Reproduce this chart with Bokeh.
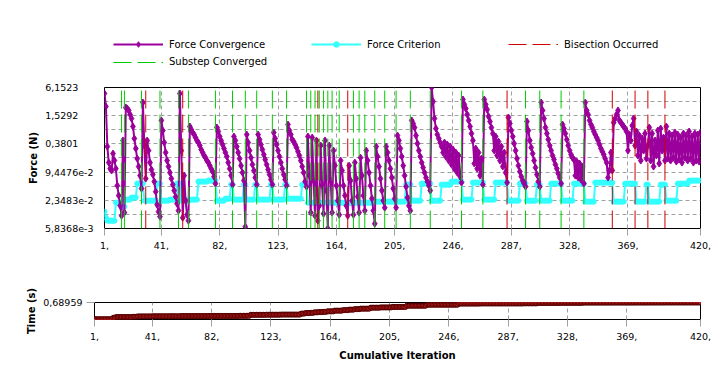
from bokeh.plotting import figure
from bokeh.models import Range1d, FixedTicker, Legend, LegendItem
from bokeh.embed import file_html
from bokeh.resources import INLINE
import numpy as np

# ---------------- data ----------------
x_ticks = [1, 41, 82, 123, 164, 205, 246, 287, 328, 369, 420]
x_tick_labels = ["1,", "41,", "82,", "123,", "164,", "205,", "246,", "287,", "328,", "369,", "420,"]

force_ticks = [6.1523, 1.5292, 0.3801, 9.4476e-2, 2.3483e-2, 5.8368e-3]
force_tick_labels = ["6,1523", "1,5292", "0,3801", "9,4476e-2", "2,3483e-2", "5,8368e-3"]

time_ticks = [0.68959]
time_tick_labels = ["0,68959"]

# Force convergence (N), one list per substep
force_convergence_substeps = [
    [4.57, 2.41, 0.333, 0.151, 0.112, 0.102, 0.236, 0.167, 0.112, 0.0485, 0.0296, 0.0180, 0.0110],
    [0.449, 0.0128],
    [2.29, 2.18, 1.98, 1.62, 1.33, 0.896, 0.495, 0.302, 0.184, 0.124, 0.0795, 0.0418],
    [2.93, 0.350, 0.0685],
    [0.449, 0.273, 0.151, 0.107, 0.0835, 0.0591, 0.0360, 0.0189, 0.0134, 0.0105],
    [1.21, 0.735, 0.406, 0.248, 0.167, 0.124, 0.0922, 0.0685, 0.0509, 0.0379, 0.0281, 0.0199, 0.0141],
    [4.57, 0.273, 0.00996],
    [0.0795, 0.0231, 0.0115, 0.00859],
    [0.896, 0.773, 0.666, 0.603, 0.520, 0.449, 0.406, 0.350, 0.287, 0.248, 0.214, 0.193, 0.167, 0.151, 0.130, 0.112, 0.0969, 0.0757, 0.0535],
    [0.853, 0.700, 0.547, 0.449, 0.368, 0.302, 0.248, 0.203, 0.151, 0.112, 0.0795, 0.0509],
    [0.547, 0.449, 0.333, 0.248, 0.184, 0.130, 0.0922, 0.0621, 0.00638],
    [0.603, 0.406, 0.273, 0.193, 0.137, 0.102, 0.0720, 0.0509],
    [0.603, 0.471, 0.368, 0.287, 0.224, 0.175, 0.137, 0.107, 0.0835, 0.0652, 0.0509],
    [0.666, 0.495, 0.368, 0.273, 0.203, 0.151, 0.112, 0.0835, 0.0652, 0.0485],
    [0.99, 0.735, 0.603, 0.471, 0.427, 0.368, 0.317, 0.260, 0.214, 0.167, 0.124, 0.0922, 0.0591, 0.0461],
    [0.547, 0.0795, 0.0128],
    [0.520, 0.0621, 0.0110],
    [0.449, 0.00859],
    [0.0180],
    [0.350, 0.0485, 0.0121],
    [0.449, 0.0379, 0.0058368],
    [0.350, 0.0621, 0.0128],
    [0.273, 0.130, 0.0485, 0.0231, 0.0115],
    [0.167, 0.102, 0.0485, 0.0296, 0.0180, 0.0110],
    [0.130, 0.0621, 0.0231, 0.0115],
    [0.151, 0.0685, 0.0281, 0.0128],
    [0.193, 0.0795, 0.0296, 0.0141],
    [0.273, 0.167, 0.0922, 0.0485, 0.0255, 0.0141, 0.00740],
    [0.333, 0.203, 0.124, 0.0685, 0.0379, 0.0231, 0.0163],
    [0.333, 0.248, 0.167, 0.112, 0.0720, 0.0418, 0.0255, 0.0163],
    [0.574, 0.449, 0.302, 0.203, 0.130, 0.0795, 0.0461, 0.0268, 0.0180, 0.0141],
    [1.21, 1.04, 0.853, 0.574, 0.387, 0.273, 0.203, 0.151, 0.118, 0.0922, 0.0720, 0.0591, 0.0485, 0.0379],
    [6.1523, 3.08, 1.33, 0.812, 0.603, 0.495, 0.406, 0.333, 0.248, 0.406, 0.203, 0.368, 0.167, 0.333, 0.137, 0.287, 0.112, 0.248, 0.0922, 0.214, 0.0757, 0.0562],
    [3.40, 2.66, 2.18, 1.62, 1.21, 0.896, 0.634, 0.449, 0.144, 0.302, 0.112, 0.248, 0.0795, 0.184, 0.0509],
    [3.40, 2.66, 2.08, 1.47, 1.15, 0.853, 0.634, 0.273, 0.547, 0.214, 0.427, 0.167, 0.333, 0.124, 0.248, 0.0922, 0.0562],
    [1.40, 1.04, 0.735, 0.547, 0.387, 0.273, 0.184, 0.130, 0.0969, 0.0757, 0.0621, 0.0535, 0.0461],
    [1.15, 0.735, 0.449, 0.317, 0.236, 0.167, 0.118, 0.0835, 0.0591, 0.0461],
    [2.93, 1.98, 1.33, 0.853, 0.634, 0.471, 0.350, 0.273, 0.214, 0.175, 0.137, 0.112, 0.0878, 0.0720, 0.0535],
    [0.99, 0.812, 0.634, 0.471, 0.350, 0.273, 0.224, 0.193, 0.175, 0.0795, 0.159, 0.0720, 0.144, 0.0652, 0.124, 0.0535],
    [2.93, 1.98, 1.62, 1.21, 0.99, 0.853, 0.700, 0.603, 0.520, 0.449, 0.368, 0.302, 0.260, 0.224, 0.184, 0.151, 0.0720, 0.102, 0.248, 0.102],
    [1.09, 1.33, 1.62, 1.98, 1.21, 1.09, 0.99, 0.896, 0.812, 0.700, 0.273, 0.603, 0.449, 0.94, 1.33, 0.350],
    [0.700, 0.214, 0.574, 0.167, 0.495, 0.273, 0.634, 0.184, 0.350],
    [0.853, 0.167, 0.634, 0.124, 0.449, 0.214, 0.735, 0.144, 0.812, 0.273, 0.520, 0.167],
    [0.896, 0.184, 0.634, 0.167, 0.574, 0.193, 0.666, 0.159, 0.603, 0.175, 0.520, 0.151, 0.634,
     0.193, 0.574, 0.167, 0.700, 0.184, 0.547, 0.151, 0.634, 0.167, 0.603, 0.159, 0.666],
]

# Force criterion (N): step levels and how many iterations each lasts
crit_values = [0.0134, 0.00996, 0.00859, 0.0209, 0.0172, 0.0243, 0.0268, 0.0535, 0.0231, 0.0535,
               0.0231, 0.0243, 0.0535, 0.0231, 0.0243, 0.0591, 0.0621, 0.0231, 0.0255, 0.0509,
               0.0243, 0.0509, 0.0243, 0.0509, 0.0243, 0.0509, 0.0243, 0.0509, 0.0255, 0.0509,
               0.0209, 0.0220, 0.0509, 0.0231, 0.0535, 0.0231, 0.0509, 0.0591, 0.0243, 0.0562,
               0.0243, 0.0562, 0.0231, 0.0535, 0.0231, 0.0509, 0.0231, 0.0535, 0.0231, 0.0535,
               0.0220, 0.0562, 0.0220, 0.0535, 0.0220, 0.0509, 0.0220, 0.0509, 0.0231, 0.0535,
               0.0621]
crit_counts = [1, 1, 6, 5, 2, 4, 4, 5, 9, 3, 6, 5, 3, 6, 6, 7, 6, 6, 4, 2, 7, 2, 6, 2, 9, 2, 8, 2,
               10, 4, 47, 22, 4, 7, 7, 7, 7, 8, 7, 8, 8, 9, 8, 5, 7, 3, 7, 8, 8, 8, 7, 13, 8, 8, 7,
               2, 8, 4, 8, 8, 9]

# Time (s) of each substep
substep_time = [0.012, 0.07, 0.10, 0.11, 0.125, 0.13, 0.135, 0.13, 0.14, 0.145, 0.145, 0.15,
                0.19, 0.195, 0.20, 0.24, 0.26, 0.27, 0.27, 0.29, 0.30, 0.31, 0.33, 0.36, 0.38,
                0.40, 0.42, 0.44, 0.48, 0.49, 0.51, 0.56, 0.60, 0.645, 0.65, 0.65, 0.655, 0.67,
                0.675, 0.685, 0.686, 0.687, 0.688, 0.68959]

converged_iters = [13, 15, 27, 40, 53, 60, 79, 91, 100, 108, 119, 129, 143, 146, 149, 152, 155,
                   158, 161, 166, 176, 180, 184, 191, 198, 206, 216, 230, 252, 267, 297, 307, 322, 338]
bisection_iters = [30, 56, 151, 172, 284, 358, 374, 383, 395]

# ---------------- build ----------------
force_conv = np.concatenate([np.array(s, dtype=float) for s in force_convergence_substeps])
n_iter = len(force_conv)
iters = np.arange(1, n_iter + 1)
force_crit = np.repeat(crit_values, crit_counts)
time_vals = np.repeat(substep_time, [len(s) for s in force_convergence_substeps])

y_lo, y_hi = force_ticks[-1], force_ticks[0]

FONT = "DejaVu Sans"
MAGENTA = "#9c009c"
CYAN = "#33ffff"
GREEN = "#00cc00"
RED = "#d00000"
GRID = "#a0a0a0"

CONV_LINE = dict(line_color=MAGENTA, line_width=2)
CONV_MARK = dict(marker="diamond", size=7, fill_color=MAGENTA, line_color=MAGENTA)
CRIT_LINE = dict(line_color=CYAN, line_width=2)
CRIT_MARK = dict(marker="circle", size=5, fill_color=CYAN, line_color=CYAN)
SUB_LINE = dict(line_color=GREEN, line_width=1, line_dash="18 6")
BIS_LINE = dict(line_color=RED, line_width=1, line_dash="18 6")

NB = "\u00a0"
pad_labels = [lab if len(lab) >= 9 else lab + NB * 5 for lab in force_tick_labels]


def style_axes(p):
    for ax in (p.xaxis, p.yaxis):
        ax.axis_line_color = None
        ax.minor_tick_line_color = None
        ax.major_label_text_font = FONT
        ax.major_label_text_font_size = "9.5px"
        ax.major_label_text_color = "black"
        ax.axis_label_text_font = FONT
        ax.axis_label_text_font_style = "bold"
        ax.axis_label_text_font_size = "10px"
        ax.axis_label_text_color = "black"
        ax.major_tick_in = 0
        ax.major_tick_line_color = GRID
    p.background_fill_color = "white"
    p.border_fill_color = "white"
    p.outline_line_color = "black"
    p.outline_line_alpha = 1.0


# ---------------- legend strip (same series, drawn outside its own view) ----------------
p0 = figure(width=720, height=75, x_range=Range1d(-20, -10), y_range=Range1d(0, 1),
            x_axis_location=None, y_axis_location=None, title=None,
            output_backend="svg", toolbar_location=None, min_border=0)
p0.grid.visible = False
p0.outline_line_color = None
p0.background_fill_color = "white"
p0.border_fill_color = "white"
lg_conv_line = p0.line(iters, force_conv, **CONV_LINE)
lg_conv_mark = p0.scatter(iters, force_conv, **CONV_MARK)
lg_crit_line = p0.line(iters, force_crit, **CRIT_LINE)
lg_crit_mark = p0.scatter(iters, force_crit, **CRIT_MARK)
lg_sub = p0.segment(x0=converged_iters, y0=[y_lo] * len(converged_iters),
                    x1=converged_iters, y1=[y_hi] * len(converged_iters), **SUB_LINE)
lg_bis = p0.segment(x0=bisection_iters, y0=[y_lo] * len(bisection_iters),
                    x1=bisection_iters, y1=[y_hi] * len(bisection_iters), **BIS_LINE)


def make_legend(items, loc):
    lg = Legend(items=items, location=loc, orientation="vertical")
    lg.padding = 0
    lg.margin = 0
    lg.spacing = 3
    lg.glyph_width = 50
    lg.glyph_height = 14
    lg.label_height = 14
    lg.label_standoff = 6
    lg.border_line_color = None
    lg.background_fill_alpha = 0
    lg.label_text_font = FONT
    lg.label_text_font_size = "10px"
    lg.label_text_color = "black"
    return lg


p0.add_layout(make_legend([LegendItem(label="Force Convergence", renderers=[lg_conv_line, lg_conv_mark])], (113, 24)))
p0.add_layout(make_legend([LegendItem(label="Substep Converged", renderers=[lg_sub])], (113, 6.5)))
p0.add_layout(make_legend([LegendItem(label="Force Criterion", renderers=[lg_crit_line, lg_crit_mark])], (311, 24)))
p0.add_layout(make_legend([LegendItem(label="Bisection Occurred", renderers=[lg_bis])], (508, 24)))

# ---------------- force plot ----------------
p1 = figure(width=720, height=183, x_range=Range1d(1, 420), y_range=Range1d(y_lo, y_hi),
            y_axis_type="log", output_backend="svg", toolbar_location=None, title=None,
            min_border_left=104, min_border_right=20, min_border_top=12, min_border_bottom=30)
style_axes(p1)
p1.xaxis.ticker = FixedTicker(ticks=x_ticks)
p1.xaxis.major_label_overrides = dict(zip(x_ticks, x_tick_labels))
p1.yaxis.ticker = FixedTicker(ticks=force_ticks)
p1.yaxis.major_label_overrides = dict(zip(force_ticks, pad_labels))
grid_levels = list(force_ticks) + [float(np.sqrt(a * b)) for a, b in zip(force_ticks[:-1], force_ticks[1:])]
p1.ygrid.ticker = FixedTicker(ticks=grid_levels)
p1.xaxis.major_tick_out = 7
p1.xaxis.major_label_standoff = 6
p1.yaxis.major_tick_out = 0
p1.yaxis.major_tick_line_color = None
p1.yaxis.major_label_standoff = 11
p1.yaxis.axis_label = "Force (N)"
p1.yaxis.axis_label_standoff = 3
for g in (p1.xgrid, p1.ygrid):
    g.grid_line_color = GRID
    g.grid_line_dash = "4 3"
    g.grid_line_width = 1

p1.line(iters, force_crit, **CRIT_LINE)
p1.scatter(iters, force_crit, **CRIT_MARK)
p1.line(iters, force_conv, **CONV_LINE)
p1.scatter(iters, force_conv, **CONV_MARK)
p1.segment(x0=converged_iters, y0=[y_lo] * len(converged_iters),
           x1=converged_iters, y1=[y_hi] * len(converged_iters), **SUB_LINE)
p1.segment(x0=bisection_iters, y0=[y_lo] * len(bisection_iters),
           x1=bisection_iters, y1=[y_hi] * len(bisection_iters), **BIS_LINE)

# ---------------- time plot ----------------
p2 = figure(width=720, height=114, x_range=Range1d(1, 420), y_range=Range1d(0, time_ticks[0]),
            output_backend="svg", toolbar_location=None, title=None,
            min_border_left=94, min_border_right=20, min_border_top=44, min_border_bottom=53)
style_axes(p2)
p2.xaxis.ticker = FixedTicker(ticks=x_ticks)
p2.xaxis.major_label_overrides = dict(zip(x_ticks, x_tick_labels))
p2.yaxis.ticker = FixedTicker(ticks=time_ticks)
p2.yaxis.major_label_overrides = dict(zip(time_ticks, time_tick_labels))
p2.xaxis.major_tick_out = 7
p2.xaxis.major_label_standoff = 6
p2.xaxis.axis_label = "Cumulative Iteration"
p2.xaxis.axis_label_standoff = 7
p2.yaxis.major_tick_out = 8
p2.yaxis.major_label_standoff = 4
p2.yaxis.axis_label = "Time (s)"
p2.yaxis.axis_label_standoff = 3
p2.xgrid.grid_line_color = GRID
p2.xgrid.grid_line_dash = "4 3"
p2.ygrid.grid_line_color = None

p2.line(iters, time_vals, line_color="#700000", line_width=1)
p2.scatter(iters, time_vals, marker="circle", size=5, fill_color="#d02020", line_color="#500000", line_width=1)

open("out.html", "w").write(file_html([p0, p1, p2], INLINE))
